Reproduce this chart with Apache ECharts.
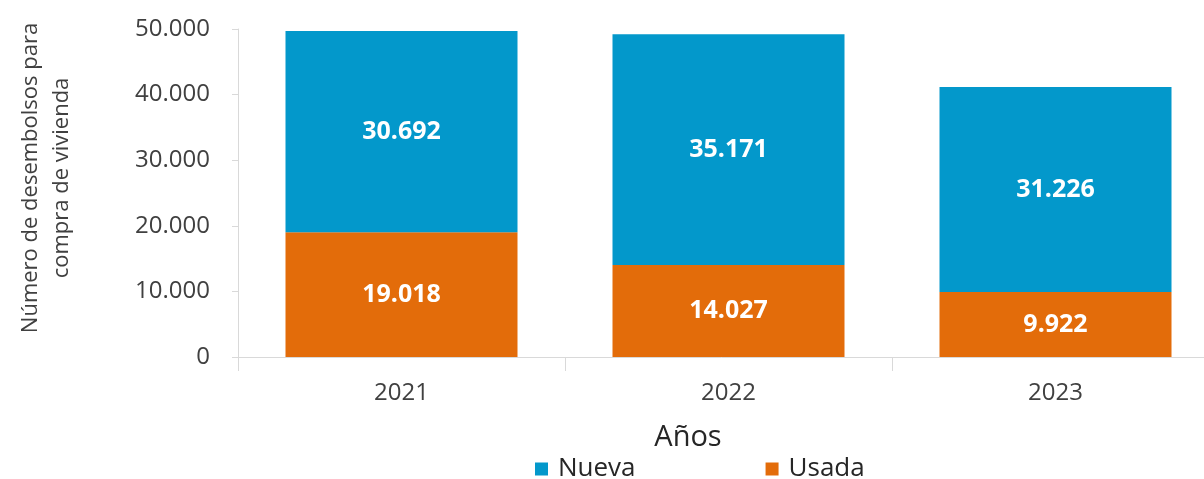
<!DOCTYPE html>
<html>
<head>
<meta charset="utf-8">
<script src="https://cdn.jsdelivr.net/npm/echarts@6/dist/echarts.min.js"></script>
<style>
  html, body { margin: 0; padding: 0; background: #ffffff; }
  #chart { width: 1204px; height: 479px; }
</style>
</head>
<body>
<div id="chart"></div>
<script>
// Desembolsos para compra de vivienda por año
const years = ['2021', '2022', '2023'];
const nueva = [30692, 35171, 31226];
const usada = [19018, 14027, 9922];
const yTicks = [0, 10000, 20000, 30000, 40000, 50000];

const FONT = '"Open Sans", "DejaVu Sans", sans-serif';
const BLUE = '#0398cb';
const ORANGE = '#e36c0a';
const AXIS_GREY = '#d9d9d9';
const TEXT_GREY = '#404040';

// Thousands separated with a dot
function fmt(v) {
  return String(Math.round(v)).replace(/\B(?=(\d{3})+(?!\d))/g, '.');
}

const chart = echarts.init(document.getElementById('chart'));

chart.setOption({
  animation: false,
  backgroundColor: '#ffffff',
  // the plot runs a little past the right edge of the canvas
  grid: {
    left: 238, width: 981, top: 29, height: 328,
    containLabel: false,
    outerBoundsMode: 'none'
  },
  legend: {
    data: ['Nueva', 'Usada'],
    left: 530,
    top: 451,
    itemWidth: 13,
    itemHeight: 13,
    itemGap: 130,
    icon: 'rect',
    textStyle: { fontFamily: FONT, fontSize: 26, color: '#262626', padding: [0, 0, 0, 5] }
  },
  xAxis: {
    type: 'category',
    data: years,
    axisLine: { lineStyle: { color: AXIS_GREY, width: 1 } },
    axisTick: { show: true, length: 14, lineStyle: { color: AXIS_GREY } },
    axisLabel: { fontFamily: FONT, fontSize: 24, color: TEXT_GREY, margin: 24 }
  },
  yAxis: {
    type: 'value',
    min: yTicks[0],
    max: yTicks[yTicks.length - 1],
    interval: yTicks[1] - yTicks[0],
    axisLine: { show: true, lineStyle: { color: AXIS_GREY, width: 1 } },
    axisTick: { show: true, length: 6, lineStyle: { color: AXIS_GREY } },
    splitLine: { show: false },
    axisLabel: {
      fontFamily: FONT, fontSize: 24, color: TEXT_GREY, margin: 28,
      formatter: v => fmt(v)
    }
  },
  graphic: [
    {
      type: 'text',
      x: 46, y: 178,
      rotation: Math.PI / 2,
      style: {
        text: 'Número de desembolsos para\ncompra de vivienda',
        font: '22px ' + FONT,
        fill: TEXT_GREY,
        align: 'center',
        verticalAlign: 'middle',
        lineHeight: 31
      }
    },
    {
      type: 'text',
      x: 688, y: 438,
      style: {
        text: 'Años',
        font: '29px ' + FONT,
        fill: '#262626',
        align: 'center',
        verticalAlign: 'middle'
      }
    }
  ],
  series: [
    {
      name: 'Usada',
      type: 'bar',
      stack: 'total',
      data: usada,
      barWidth: 232,
      itemStyle: { color: ORANGE },
      label: {
        show: true, position: 'inside', color: '#ffffff',
        fontFamily: FONT, fontWeight: 'bold', fontSize: 25,
        formatter: p => fmt(p.value)
      }
    },
    {
      name: 'Nueva',
      type: 'bar',
      stack: 'total',
      data: nueva,
      barWidth: 232,
      itemStyle: { color: BLUE },
      label: {
        show: true, position: 'inside', color: '#ffffff',
        fontFamily: FONT, fontWeight: 'bold', fontSize: 25,
        formatter: p => fmt(p.value)
      }
    }
  ]
});
</script>
</body>
</html>
